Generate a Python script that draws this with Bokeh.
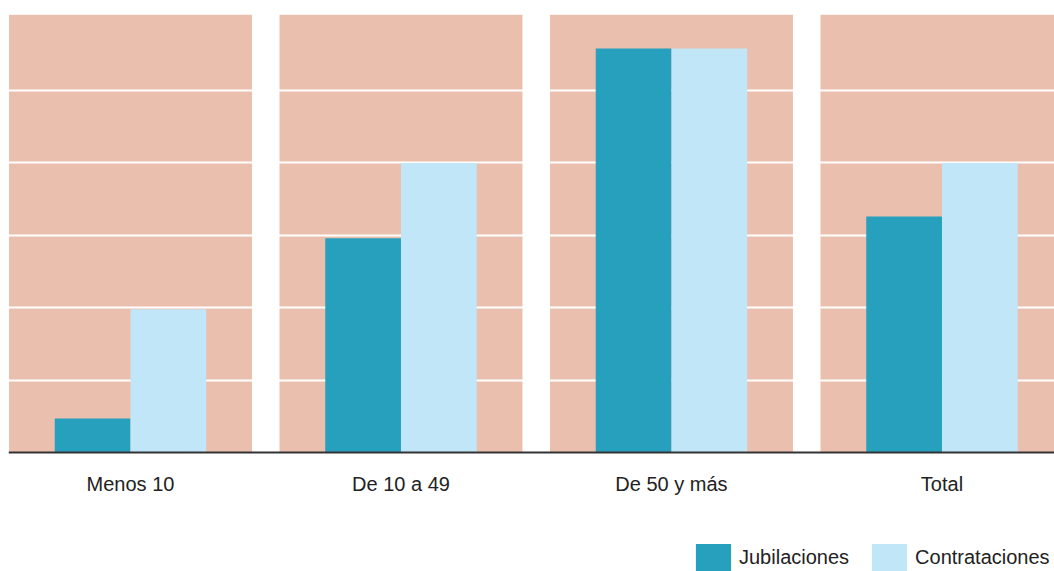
from bokeh.plotting import figure
from bokeh.models import ColumnDataSource, Range1d, FixedTicker, Legend, LegendItem, Span
from bokeh.transform import dodge
from bokeh.core.properties import value
from bokeh.embed import file_html
from bokeh.resources import INLINE

categories = ["Menos 10", "De 10 a 49", "De 50 y más", "Total"]
jubilaciones = [0.47, 2.96, 5.58, 3.26]
contrataciones = [1.98, 4.0, 5.58, 4.0]
series_names = ["Jubilaciones", "Contrataciones"]

idx = list(range(len(categories)))
y_top = 6.05
y_bottom = -1.644   # room below the baseline for labels and legend

src = ColumnDataSource(dict(x=idx, cat=categories, jub=jubilaciones, con=contrataciones,
                            top=[y_top] * len(idx), base=[0] * len(idx)))

p = figure(width=1054, height=571, output_backend="svg", toolbar_location=None,
           x_range=Range1d(-0.451, 3.416), y_range=Range1d(y_bottom, y_top),
           x_axis_location=None, y_axis_location=None,
           min_border_left=8, min_border_right=0, min_border_top=14, min_border_bottom=0,
           background_fill_color="white", border_fill_color="white", outline_line_color=None)

# panel backgrounds
p.vbar(x="x", top="top", bottom=0, width=0.898, source=src,
       fill_color="#EBBFAD", line_color=None, level="image")

r1 = p.vbar(x=dodge("x", -0.14), top="jub", bottom=0, width=0.28, source=src,
            fill_color="#27A0BE", line_color=None)
r2 = p.vbar(x=dodge("x", 0.14), top="con", bottom=0, width=0.28, source=src,
            fill_color="#C0E6F8", line_color=None)

p.xgrid.visible = False
p.ygrid.ticker = FixedTicker(ticks=[1, 2, 3, 4, 5])
p.ygrid.grid_line_color = "white"
p.ygrid.grid_line_width = 2

# baseline (category axis line)
p.add_layout(Span(location=0, dimension="width", line_color="#333333", line_width=2))

# category labels
p.text(x="x", y="base", text="cat", source=src, y_offset=32,
       text_align="center", text_baseline="middle",
       text_font=value("Liberation Sans"), text_font_size="20px", text_color="#222222")

legend = Legend(items=[LegendItem(label=series_names[0], renderers=[r1]),
                       LegendItem(label=series_names[1], renderers=[r2])],
                location=(683, -3), orientation="horizontal",
                glyph_width=44, glyph_height=34, label_standoff=4, spacing=18,
                padding=0, margin=0, border_line_color=None, background_fill_alpha=0,
                label_text_font="Liberation Sans", label_text_font_size="20px",
                label_text_color="#222222", label_height=34)
p.add_layout(legend, "center")

open("out.html", "w").write(file_html(p, INLINE))
